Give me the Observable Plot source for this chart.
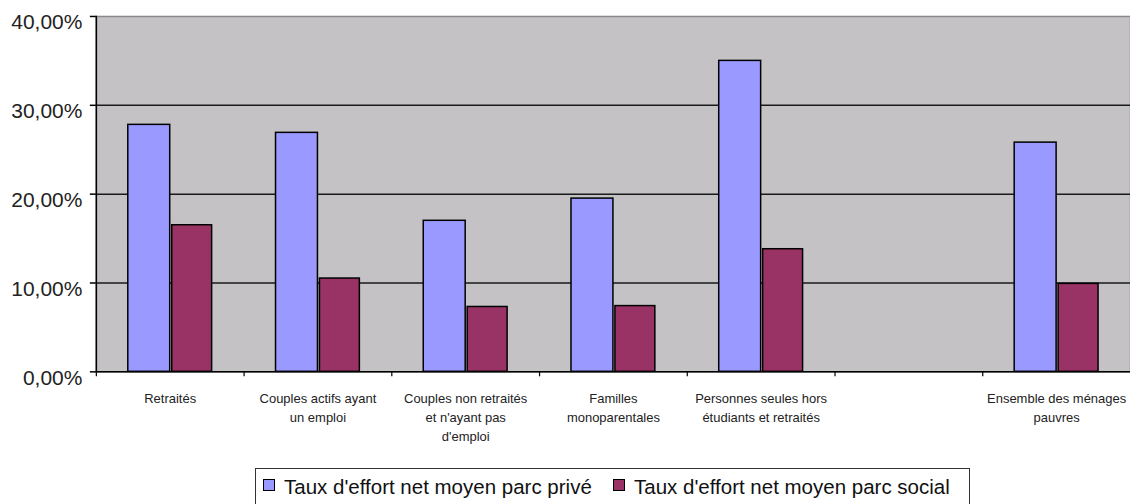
<!DOCTYPE html>
<html lang="fr">
<head>
<meta charset="utf-8">
<script src="https://cdn.jsdelivr.net/npm/d3@7"></script>
<script src="https://cdn.jsdelivr.net/npm/@observablehq/plot@0.6"></script>
<style>
  html, body { margin: 0; padding: 0; background: #fff; }
  body { width: 1130px; height: 504px; overflow: hidden; position: relative; font-family: "Liberation Sans", Arial, sans-serif; }
  #chart svg { display: block; }
  .legend {
    position: absolute; left: 255px; top: 468px; width: 715px; height: 60px;
    border: 1.5px solid #333; box-sizing: border-box; background: #fff;
    font-size: 20.5px; color: #111; white-space: nowrap;
  }
  .legend .item { position: absolute; top: 6px; display: flex; align-items: center; }
  .legend .sw { width: 10px; height: 10px; border: 1px solid #000; margin-right: 9px; margin-top: -4px; }
</style>
</head>
<body>
<div id="chart"></div>
<div class="legend">
  <div class="item" style="left:7px"><span class="sw" style="background:#9999ff"></span><span id="lg0"></span></div>
  <div class="item" style="left:357px"><span class="sw" style="background:#993366"></span><span id="lg1"></span></div>
</div>
<script>
// Catégories de ménages (un emplacement vide avant l'ensemble)
const categories = [
  "Retraités",
  "Couples actifs ayant\nun emploi",
  "Couples non retraités\net n'ayant pas\nd'emploi",
  "Familles\nmonoparentales",
  "Personnes seules hors\nétudiants et retraités",
  " ",
  "Ensemble des ménages\npauvres"
];
// Taux d'effort net moyen (%)
const prive  = [27.8, 26.9, 17.0, 19.5, 35.0, null, 25.8];
const social = [16.5, 10.5, 7.3, 7.4, 13.8, null, 9.9];
const series = ["Taux d'effort net moyen parc privé", "Taux d'effort net moyen parc social"];
const colors = ["#9999ff", "#993366"];
const yTicks = [0, 10, 20, 30, 40];

document.getElementById("lg0").textContent = series[0];
document.getElementById("lg1").textContent = series[1];

const rows = [];
categories.forEach((c, i) => {
  if (prive[i] != null) rows.push({cat: c, serie: series[0], v: prive[i]});
  if (social[i] != null) rows.push({cat: c, serie: series[1], v: social[i]});
});

const W = 1132, ML = 96;
const step = (W - ML) / categories.length;
const fmt = d => d.toFixed(2).replace(".", ",") + "%";

const chart = Plot.plot({
  width: W,
  height: 460,
  marginLeft: ML,
  marginRight: 0,
  marginTop: 16,
  marginBottom: 88,
  style: {fontFamily: "'Liberation Sans', Arial, sans-serif", background: "transparent"},
  x: {domain: categories, padding: 0, label: null},
  y: {domain: [0, 40], label: null},
  color: {domain: series, range: colors},
  marks: [
    Plot.frame({fill: "#c4c2c5", stroke: "#8a8a8a", strokeWidth: 1.5}),
    Plot.ruleY([10, 20, 30], {stroke: "#1a1a1a", strokeWidth: 1.5}),
    // barres parc privé
    Plot.barY(rows.filter(d => d.serie === series[0]), {
      x: "cat", y: "v", fill: "serie", stroke: "#000", strokeWidth: 1.5,
      insetLeft: 32, insetRight: step - 32 - 42
    }),
    // barres parc social
    Plot.barY(rows.filter(d => d.serie === series[1]), {
      x: "cat", y: "v", fill: "serie", stroke: "#000", strokeWidth: 1.5,
      insetLeft: 76, insetRight: step - 76 - 40
    }),
    Plot.ruleY([0], {stroke: "#000", strokeWidth: 1.5}),
    Plot.frame({anchor: "left", stroke: "#000", strokeWidth: 1.5}),
    // graduations de l'axe vertical
    Plot.axisY({ticks: yTicks, tickSize: 6, tickFormat: () => "", stroke: "#000", strokeWidth: 1.5}),
    // libellés en pourcentage
    Plot.axisY({
      ticks: yTicks, tickSize: 0, tickPadding: 14, tickFormat: fmt,
      fontSize: 21, fill: "#222", dy: 6
    }),
    // graduations entre catégories
    Plot.axisX({tickSize: 5, tickFormat: () => "", dx: -step / 2, stroke: "#000", strokeWidth: 1.2}),
    Plot.axisX({
      tickSize: 0, tickPadding: 18, fontSize: 13, lineHeight: 1.45,
      fill: "#222", textAnchor: "middle"
    })
  ]
});
document.getElementById("chart").appendChild(chart);
</script>
</body>
</html>
